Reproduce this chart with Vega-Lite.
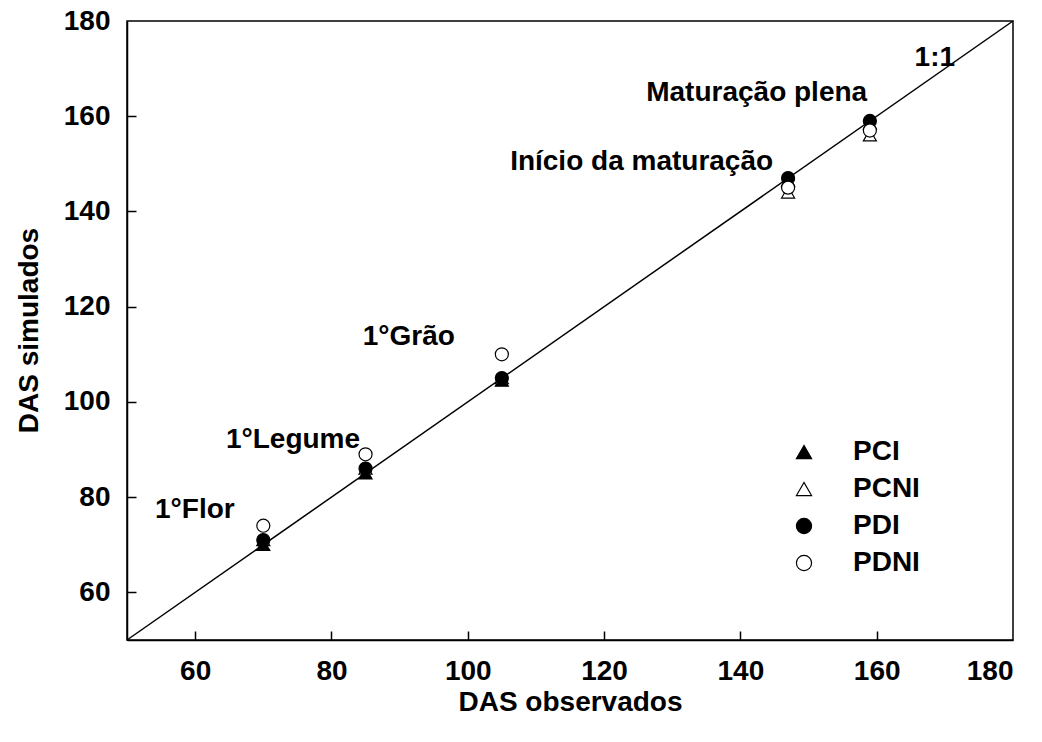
{
  "$schema": "https://vega.github.io/schema/vega-lite/v6.json",
  "width": 886,
  "height": 619,
  "autosize": {"type": "none"},
  "padding": {"left": 127, "top": 21, "right": 29, "bottom": 102},
  "background": "white",
  "config": {
    "font": "Liberation Sans",
    "view": {"stroke": "black", "strokeWidth": 1.5},
    "axis": {
      "domainColor": "black", "domainWidth": 1.5,
      "tickColor": "black", "tickWidth": 1.5,
      "grid": false,
      "labelFont": "Liberation Sans", "labelFontSize": 28, "labelFontWeight": "bold", "labelColor": "black",
      "titleFont": "Liberation Sans", "titleFontSize": 28, "titleFontWeight": "bold", "titleColor": "black"
    },
    "legend": {
      "orient": "none", "legendX": 663, "legendY": 417, "padding": 0,
      "symbolSize": 230, "symbolStrokeColor": "black", "symbolStrokeWidth": 1.2,
      "labelFont": "Liberation Sans", "labelFontSize": 28, "labelFontWeight": "bold", "labelColor": "black",
      "labelOffset": 35, "rowPadding": 9
    }
  },
  "resolve": {"axis": {"x": "independent", "y": "independent"}},
  "layer": [
    {
      "data": {"values": [{"obs": 50, "sim": 50}, {"obs": 180, "sim": 180}]},
      "mark": {"type": "line", "color": "black", "strokeWidth": 1.5},
      "encoding": {
        "x": {"field": "obs", "type": "quantitative", "scale": {"domain": [50, 180], "nice": false, "zero": false},
              "axis": {"orient": "bottom", "title": "DAS observados", "values": [60, 80, 100, 120, 140, 160, 180], "ticks": false, "labelPadding": 17, "titleY": 62, "titleBaseline": "middle"}},
        "y": {"field": "sim", "type": "quantitative", "scale": {"domain": [50, 180], "nice": false, "zero": false},
              "axis": {"orient": "left", "title": "DAS simulados", "values": [60, 80, 100, 120, 140, 160, 180], "ticks": false, "labelPadding": 17, "titleX": -98, "titleY": 309, "titleBaseline": "middle", "titleAngle": -90}}
      }
    },
    {
      "data": {"values": [
        {"serie": "PCI", "obs": 70, "sim": 70},
        {"serie": "PCI", "obs": 85, "sim": 85},
        {"serie": "PCI", "obs": 105, "sim": 104.5},
        {"serie": "PCI", "obs": 147, "sim": 146.5},
        {"serie": "PCI", "obs": 159, "sim": 158.5},
        {"serie": "PCNI", "obs": 70, "sim": 71},
        {"serie": "PCNI", "obs": 85, "sim": 86},
        {"serie": "PCNI", "obs": 105, "sim": 105},
        {"serie": "PCNI", "obs": 147, "sim": 144},
        {"serie": "PCNI", "obs": 159, "sim": 156},
        {"serie": "PDI", "obs": 70, "sim": 71},
        {"serie": "PDI", "obs": 85, "sim": 86},
        {"serie": "PDI", "obs": 105, "sim": 105},
        {"serie": "PDI", "obs": 147, "sim": 147},
        {"serie": "PDI", "obs": 159, "sim": 159},
        {"serie": "PDNI", "obs": 70, "sim": 74},
        {"serie": "PDNI", "obs": 85, "sim": 89},
        {"serie": "PDNI", "obs": 105, "sim": 110},
        {"serie": "PDNI", "obs": 147, "sim": 145},
        {"serie": "PDNI", "obs": 159, "sim": 157}
      ]},
      "mark": {"type": "point", "filled": true, "strokeWidth": 1.2, "size": 170, "opacity": 1},
      "encoding": {
        "x": {"field": "obs", "type": "quantitative",
              "axis": {"orient": "bottom", "title": null, "domain": false, "labels": false, "ticks": true, "tickSize": 9, "offset": -9, "values": [60, 80, 100, 120, 140, 160]}},
        "y": {"field": "sim", "type": "quantitative",
              "axis": {"orient": "left", "title": null, "domain": false, "labels": false, "ticks": true, "tickSize": 9, "offset": -9, "values": [60, 80, 100, 120, 140, 160]}},
        "shape": {"field": "serie", "type": "nominal", "scale": {"domain": ["PCI", "PCNI", "PDI", "PDNI"], "range": ["triangle-up", "triangle-up", "circle", "circle"]},
                  "legend": {"title": null}},
        "fill": {"field": "serie", "type": "nominal", "scale": {"domain": ["PCI", "PCNI", "PDI", "PDNI"], "range": ["black", "white", "black", "white"]},
                 "legend": {"title": null}},
        "stroke": {"field": "serie", "type": "nominal", "scale": {"domain": ["PCI", "PCNI", "PDI", "PDNI"], "range": ["black", "black", "black", "black"]},
                 "legend": {"title": null}}
      }
    },
    {
      "data": {"values": [
        {"label": "1°Flor", "obs": 65.8, "sim": 77.3},
        {"label": "1°Legume", "obs": 84.2, "sim": 92},
        {"label": "1°Grão", "obs": 98.1, "sim": 113.6},
        {"label": "Início da maturação", "obs": 144.8, "sim": 150.4},
        {"label": "Maturação plena", "obs": 158.6, "sim": 164.9},
        {"label": "1:1", "obs": 171.5, "sim": 172.2}
      ]},
      "mark": {"type": "text", "align": "right", "baseline": "middle", "fontSize": 28, "fontWeight": "bold", "font": "Liberation Sans", "color": "black"},
      "encoding": {
        "x": {"field": "obs", "type": "quantitative", "axis": null},
        "y": {"field": "sim", "type": "quantitative", "axis": null},
        "text": {"field": "label", "type": "nominal"}
      }
    }
  ]
}
